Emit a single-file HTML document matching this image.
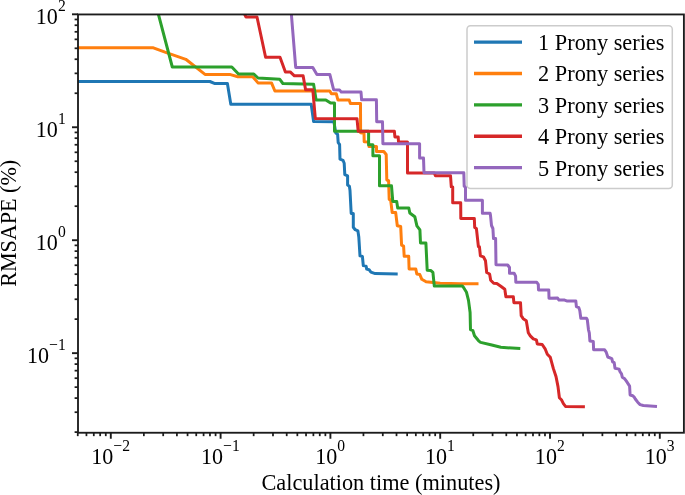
<!DOCTYPE html>
<html><head><meta charset="utf-8"><style>html,body{margin:0;padding:0;background:#fff;width:685px;height:495px;overflow:hidden}</style></head>
<body><svg width="685" height="495" viewBox="0 0 685 495" style="display:block;will-change:transform;font-family:'Liberation Serif', serif">
<rect width="685" height="495" fill="#fff"/>
<g><defs><clipPath id="ax"><rect x="78" y="14.45" width="605.9" height="418.3"/></clipPath></defs><g clip-path="url(#ax)" fill="none" stroke-width="3.0" stroke-linejoin="round" stroke-linecap="square"><path d="M60.0,81.5 L209.9,81.5 L215.0,83.6 L227.4,83.6 L230.8,104.3 L311.2,104.3 L313.6,121.6 L333.9,121.8 L335.8,133.0 L337.6,134.2 L338.2,142.7 L339.6,144.5 L340.0,159.1 L343.0,160.3 L344.2,163.3 L344.8,174.7 L347.6,175.9 L347.6,185.0 L349.4,186.2 L350.0,190.5 L351.2,213.5 L353.3,213.5 L353.3,227.3 L355.2,229.7 L357.9,230.9 L358.8,237.0 L360.0,255.8 L362.4,256.4 L363.3,265.5 L366.1,266.1 L366.7,269.1 L369.1,269.7 L370.9,272.1 L375.2,273.6 L396.2,273.9" stroke="#1f77b4"/><path d="M60.0,47.8 L153.4,47.8 L165.0,52.2 L185.8,59.3 L205.0,74.4 L229.7,74.4 L237.8,76.7 L252.7,76.7 L258.0,82.9 L271.5,82.9 L274.9,91.0 L329.8,91.0 L331.4,93.8 L336.3,93.8 L337.9,99.9 L349.2,99.9 L350.4,103.4 L360.5,103.4 L360.6,132.8 L364.0,133.3 L364.2,141.7 L368.5,142.0 L369.0,146.6 L376.5,146.6 L376.5,151.5 L383.8,151.5 L386.2,154.5 L386.8,180.0 L388.6,180.6 L389.2,199.5 L390.6,199.5 L392.2,212.6 L395.7,212.6 L397.3,225.8 L400.7,226.5 L401.6,245.2 L403.6,246.2 L404.2,256.3 L408.7,256.3 L409.1,269.0 L415.8,269.0 L416.8,274.0 L419.8,274.5 L421.8,279.3 L426.1,281.8 L440.2,283.2 L460.4,283.8 L477.0,283.8" stroke="#ff7f0e"/><path d="M152.0,-10.0 L172.3,67.0 L231.8,67.0 L238.5,74.0 L253.8,74.0 L258.0,78.0 L279.8,79.3 L282.9,83.5 L313.6,84.3 L316.1,99.9 L325.8,99.9 L330.6,103.1 L334.5,103.1 L334.5,131.2 L368.6,131.2 L368.6,144.8 L372.9,144.8 L372.9,155.8 L379.5,155.8 L379.5,185.8 L391.5,185.8 L392.8,201.5 L396.7,201.5 L397.7,208.0 L408.8,208.0 L409.8,213.0 L414.8,216.7 L416.9,225.8 L419.9,229.8 L420.5,243.0 L425.9,243.1 L427.2,270.2 L430.9,270.6 L432.9,272.4 L434.3,286.0 L462.3,286.0 L463.4,287.3 L466.5,292.3 L468.5,300.4 L470.1,312.5 L470.5,329.7 L472.9,330.7 L474.5,335.8 L478.6,340.8 L480.6,342.4 L490.7,344.8 L500.8,347.3 L518.8,348.5" stroke="#2ca02c"/><path d="M242.5,10.0 L246.0,17.0 L257.0,17.0 L265.6,57.3 L280.0,57.3 L285.4,71.9 L290.2,71.9 L294.4,75.8 L303.1,75.8 L305.6,89.7 L312.8,89.7 L315.3,118.5 L357.0,118.7 L358.2,131.3 L394.4,131.3 L394.9,136.9 L398.2,136.9 L398.5,142.0 L407.5,142.0 L407.5,173.0 L434.3,173.0 L435.4,175.7 L450.5,175.7 L451.3,186.8 L452.7,187.0 L452.7,202.7 L460.7,202.7 L460.8,218.4 L474.3,218.4 L474.7,227.5 L476.4,228.5 L478.4,246.7 L479.4,246.7 L480.4,255.8 L483.4,256.8 L485.5,260.8 L486.7,272.5 L489.6,274.0 L490.7,280.2 L493.7,283.2 L496.8,283.5 L500.8,286.3 L504.8,289.3 L505.9,296.7 L513.3,296.7 L513.9,302.7 L520.5,302.7 L521.2,315.7 L523.2,318.7 L526.3,320.7 L528.3,332.8 L530.3,335.9 L533.3,338.9 L536.4,339.9 L537.3,344.0 L542.2,344.5 L545.3,349.2 L547.3,354.2 L550.3,357.3 L553.3,368.4 L556.0,376.5 L558.0,386.6 L559.4,397.7 L561.4,399.7 L563.4,403.7 L565.5,406.4 L583.4,406.8" stroke="#d62728"/><path d="M289.4,-10.0 L295.7,67.4 L312.8,67.4 L316.9,74.4 L329.8,74.4 L333.6,89.7 L339.5,89.9 L341.3,92.1 L361.0,92.1 L361.6,99.8 L376.4,99.8 L376.7,121.7 L382.5,121.7 L382.9,143.7 L419.6,143.7 L419.6,158.1 L423.5,158.1 L424.0,172.7 L463.8,172.7 L464.2,186.2 L465.5,187.0 L465.5,200.2 L482.4,200.2 L482.4,213.3 L490.1,213.3 L490.5,215.4 L491.5,225.5 L492.9,228.5 L493.5,238.6 L495.6,238.6 L496.0,264.8 L507.7,265.0 L509.5,267.5 L509.5,273.2 L514.1,273.2 L515.6,276.2 L515.8,282.3 L536.8,282.3 L538.3,284.3 L538.5,290.0 L548.8,290.0 L549.0,298.3 L557.6,298.1 L559.0,300.1 L564.6,300.1 L566.7,300.9 L575.8,300.9 L576.4,306.6 L578.8,307.6 L579.8,310.6 L580.8,318.3 L586.5,318.3 L587.3,319.7 L588.5,329.8 L589.3,332.8 L589.9,340.9 L593.3,341.5 L593.6,349.7 L604.5,349.7 L606.2,352.1 L607.8,357.0 L611.8,358.6 L612.6,361.8 L614.2,362.6 L615.0,368.3 L619.1,369.1 L619.9,371.5 L621.5,373.9 L622.3,377.2 L624.7,378.8 L626.4,381.2 L628.0,383.6 L629.6,386.1 L630.1,395.0 L632.8,395.8 L634.4,397.4 L635.3,399.0 L637.7,402.2 L640.1,404.6 L643.3,405.5 L655.5,406.3" stroke="#9467bd"/></g></g>
<rect x="78.0" y="14.45" width="605.9" height="418.3" fill="none" stroke="#1c1c1c" stroke-width="1.85"/>
<line x1="77.75" y1="432.75" x2="77.75" y2="436.15" stroke="#1c1c1c" stroke-width="1.75"/><line x1="86.44" y1="432.75" x2="86.44" y2="436.15" stroke="#1c1c1c" stroke-width="1.75"/><line x1="93.79" y1="432.75" x2="93.79" y2="436.15" stroke="#1c1c1c" stroke-width="1.75"/><line x1="100.16" y1="432.75" x2="100.16" y2="436.15" stroke="#1c1c1c" stroke-width="1.75"/><line x1="105.78" y1="432.75" x2="105.78" y2="436.15" stroke="#1c1c1c" stroke-width="1.75"/><line x1="110.80" y1="432.75" x2="110.80" y2="438.75" stroke="#1c1c1c" stroke-width="1.9"/><line x1="143.85" y1="432.75" x2="143.85" y2="436.15" stroke="#1c1c1c" stroke-width="1.75"/><line x1="163.19" y1="432.75" x2="163.19" y2="436.15" stroke="#1c1c1c" stroke-width="1.75"/><line x1="176.91" y1="432.75" x2="176.91" y2="436.15" stroke="#1c1c1c" stroke-width="1.75"/><line x1="187.55" y1="432.75" x2="187.55" y2="436.15" stroke="#1c1c1c" stroke-width="1.75"/><line x1="196.24" y1="432.75" x2="196.24" y2="436.15" stroke="#1c1c1c" stroke-width="1.75"/><line x1="203.59" y1="432.75" x2="203.59" y2="436.15" stroke="#1c1c1c" stroke-width="1.75"/><line x1="209.96" y1="432.75" x2="209.96" y2="436.15" stroke="#1c1c1c" stroke-width="1.75"/><line x1="215.58" y1="432.75" x2="215.58" y2="436.15" stroke="#1c1c1c" stroke-width="1.75"/><line x1="220.60" y1="432.75" x2="220.60" y2="438.75" stroke="#1c1c1c" stroke-width="1.9"/><line x1="253.65" y1="432.75" x2="253.65" y2="436.15" stroke="#1c1c1c" stroke-width="1.75"/><line x1="272.99" y1="432.75" x2="272.99" y2="436.15" stroke="#1c1c1c" stroke-width="1.75"/><line x1="286.71" y1="432.75" x2="286.71" y2="436.15" stroke="#1c1c1c" stroke-width="1.75"/><line x1="297.35" y1="432.75" x2="297.35" y2="436.15" stroke="#1c1c1c" stroke-width="1.75"/><line x1="306.04" y1="432.75" x2="306.04" y2="436.15" stroke="#1c1c1c" stroke-width="1.75"/><line x1="313.39" y1="432.75" x2="313.39" y2="436.15" stroke="#1c1c1c" stroke-width="1.75"/><line x1="319.76" y1="432.75" x2="319.76" y2="436.15" stroke="#1c1c1c" stroke-width="1.75"/><line x1="325.38" y1="432.75" x2="325.38" y2="436.15" stroke="#1c1c1c" stroke-width="1.75"/><line x1="330.40" y1="432.75" x2="330.40" y2="438.75" stroke="#1c1c1c" stroke-width="1.9"/><line x1="363.45" y1="432.75" x2="363.45" y2="436.15" stroke="#1c1c1c" stroke-width="1.75"/><line x1="382.79" y1="432.75" x2="382.79" y2="436.15" stroke="#1c1c1c" stroke-width="1.75"/><line x1="396.51" y1="432.75" x2="396.51" y2="436.15" stroke="#1c1c1c" stroke-width="1.75"/><line x1="407.15" y1="432.75" x2="407.15" y2="436.15" stroke="#1c1c1c" stroke-width="1.75"/><line x1="415.84" y1="432.75" x2="415.84" y2="436.15" stroke="#1c1c1c" stroke-width="1.75"/><line x1="423.19" y1="432.75" x2="423.19" y2="436.15" stroke="#1c1c1c" stroke-width="1.75"/><line x1="429.56" y1="432.75" x2="429.56" y2="436.15" stroke="#1c1c1c" stroke-width="1.75"/><line x1="435.18" y1="432.75" x2="435.18" y2="436.15" stroke="#1c1c1c" stroke-width="1.75"/><line x1="440.20" y1="432.75" x2="440.20" y2="438.75" stroke="#1c1c1c" stroke-width="1.9"/><line x1="473.25" y1="432.75" x2="473.25" y2="436.15" stroke="#1c1c1c" stroke-width="1.75"/><line x1="492.59" y1="432.75" x2="492.59" y2="436.15" stroke="#1c1c1c" stroke-width="1.75"/><line x1="506.31" y1="432.75" x2="506.31" y2="436.15" stroke="#1c1c1c" stroke-width="1.75"/><line x1="516.95" y1="432.75" x2="516.95" y2="436.15" stroke="#1c1c1c" stroke-width="1.75"/><line x1="525.64" y1="432.75" x2="525.64" y2="436.15" stroke="#1c1c1c" stroke-width="1.75"/><line x1="532.99" y1="432.75" x2="532.99" y2="436.15" stroke="#1c1c1c" stroke-width="1.75"/><line x1="539.36" y1="432.75" x2="539.36" y2="436.15" stroke="#1c1c1c" stroke-width="1.75"/><line x1="544.98" y1="432.75" x2="544.98" y2="436.15" stroke="#1c1c1c" stroke-width="1.75"/><line x1="550.00" y1="432.75" x2="550.00" y2="438.75" stroke="#1c1c1c" stroke-width="1.9"/><line x1="583.05" y1="432.75" x2="583.05" y2="436.15" stroke="#1c1c1c" stroke-width="1.75"/><line x1="602.39" y1="432.75" x2="602.39" y2="436.15" stroke="#1c1c1c" stroke-width="1.75"/><line x1="616.11" y1="432.75" x2="616.11" y2="436.15" stroke="#1c1c1c" stroke-width="1.75"/><line x1="626.75" y1="432.75" x2="626.75" y2="436.15" stroke="#1c1c1c" stroke-width="1.75"/><line x1="635.44" y1="432.75" x2="635.44" y2="436.15" stroke="#1c1c1c" stroke-width="1.75"/><line x1="642.79" y1="432.75" x2="642.79" y2="436.15" stroke="#1c1c1c" stroke-width="1.75"/><line x1="649.16" y1="432.75" x2="649.16" y2="436.15" stroke="#1c1c1c" stroke-width="1.75"/><line x1="654.78" y1="432.75" x2="654.78" y2="436.15" stroke="#1c1c1c" stroke-width="1.75"/><line x1="659.80" y1="432.75" x2="659.80" y2="438.75" stroke="#1c1c1c" stroke-width="1.9"/><line x1="78.0" y1="432.10" x2="74.60" y2="432.10" stroke="#1c1c1c" stroke-width="1.75"/><line x1="78.0" y1="412.21" x2="74.60" y2="412.21" stroke="#1c1c1c" stroke-width="1.75"/><line x1="78.0" y1="398.10" x2="74.60" y2="398.10" stroke="#1c1c1c" stroke-width="1.75"/><line x1="78.0" y1="387.15" x2="74.60" y2="387.15" stroke="#1c1c1c" stroke-width="1.75"/><line x1="78.0" y1="378.21" x2="74.60" y2="378.21" stroke="#1c1c1c" stroke-width="1.75"/><line x1="78.0" y1="370.65" x2="74.60" y2="370.65" stroke="#1c1c1c" stroke-width="1.75"/><line x1="78.0" y1="364.10" x2="74.60" y2="364.10" stroke="#1c1c1c" stroke-width="1.75"/><line x1="78.0" y1="358.32" x2="74.60" y2="358.32" stroke="#1c1c1c" stroke-width="1.75"/><line x1="78.0" y1="353.15" x2="72.00" y2="353.15" stroke="#1c1c1c" stroke-width="1.9"/><line x1="78.0" y1="319.15" x2="74.60" y2="319.15" stroke="#1c1c1c" stroke-width="1.75"/><line x1="78.0" y1="299.26" x2="74.60" y2="299.26" stroke="#1c1c1c" stroke-width="1.75"/><line x1="78.0" y1="285.15" x2="74.60" y2="285.15" stroke="#1c1c1c" stroke-width="1.75"/><line x1="78.0" y1="274.20" x2="74.60" y2="274.20" stroke="#1c1c1c" stroke-width="1.75"/><line x1="78.0" y1="265.26" x2="74.60" y2="265.26" stroke="#1c1c1c" stroke-width="1.75"/><line x1="78.0" y1="257.70" x2="74.60" y2="257.70" stroke="#1c1c1c" stroke-width="1.75"/><line x1="78.0" y1="251.15" x2="74.60" y2="251.15" stroke="#1c1c1c" stroke-width="1.75"/><line x1="78.0" y1="245.37" x2="74.60" y2="245.37" stroke="#1c1c1c" stroke-width="1.75"/><line x1="78.0" y1="240.20" x2="72.00" y2="240.20" stroke="#1c1c1c" stroke-width="1.9"/><line x1="78.0" y1="206.20" x2="74.60" y2="206.20" stroke="#1c1c1c" stroke-width="1.75"/><line x1="78.0" y1="186.31" x2="74.60" y2="186.31" stroke="#1c1c1c" stroke-width="1.75"/><line x1="78.0" y1="172.20" x2="74.60" y2="172.20" stroke="#1c1c1c" stroke-width="1.75"/><line x1="78.0" y1="161.25" x2="74.60" y2="161.25" stroke="#1c1c1c" stroke-width="1.75"/><line x1="78.0" y1="152.31" x2="74.60" y2="152.31" stroke="#1c1c1c" stroke-width="1.75"/><line x1="78.0" y1="144.75" x2="74.60" y2="144.75" stroke="#1c1c1c" stroke-width="1.75"/><line x1="78.0" y1="138.20" x2="74.60" y2="138.20" stroke="#1c1c1c" stroke-width="1.75"/><line x1="78.0" y1="132.42" x2="74.60" y2="132.42" stroke="#1c1c1c" stroke-width="1.75"/><line x1="78.0" y1="127.25" x2="72.00" y2="127.25" stroke="#1c1c1c" stroke-width="1.9"/><line x1="78.0" y1="93.25" x2="74.60" y2="93.25" stroke="#1c1c1c" stroke-width="1.75"/><line x1="78.0" y1="73.36" x2="74.60" y2="73.36" stroke="#1c1c1c" stroke-width="1.75"/><line x1="78.0" y1="59.25" x2="74.60" y2="59.25" stroke="#1c1c1c" stroke-width="1.75"/><line x1="78.0" y1="48.30" x2="74.60" y2="48.30" stroke="#1c1c1c" stroke-width="1.75"/><line x1="78.0" y1="39.36" x2="74.60" y2="39.36" stroke="#1c1c1c" stroke-width="1.75"/><line x1="78.0" y1="31.80" x2="74.60" y2="31.80" stroke="#1c1c1c" stroke-width="1.75"/><line x1="78.0" y1="25.25" x2="74.60" y2="25.25" stroke="#1c1c1c" stroke-width="1.75"/><line x1="78.0" y1="19.47" x2="74.60" y2="19.47" stroke="#1c1c1c" stroke-width="1.75"/><line x1="78.0" y1="14.30" x2="72.00" y2="14.30" stroke="#1c1c1c" stroke-width="1.9"/>
<g fill="#000"><g transform="translate(110.60,464.00) scale(0.92,1)"><text x="0" y="0" text-anchor="middle" font-size="24">10<tspan dy="-13.2" font-size="17">−2</tspan></text></g><g transform="translate(220.40,464.00) scale(0.92,1)"><text x="0" y="0" text-anchor="middle" font-size="24">10<tspan dy="-13.2" font-size="17">−1</tspan></text></g><g transform="translate(330.20,464.00) scale(0.92,1)"><text x="0" y="0" text-anchor="middle" font-size="24">10<tspan dy="-13.2" font-size="17">0</tspan></text></g><g transform="translate(440.00,464.00) scale(0.92,1)"><text x="0" y="0" text-anchor="middle" font-size="24">10<tspan dy="-13.2" font-size="17">1</tspan></text></g><g transform="translate(549.80,464.00) scale(0.92,1)"><text x="0" y="0" text-anchor="middle" font-size="24">10<tspan dy="-13.2" font-size="17">2</tspan></text></g><g transform="translate(659.60,464.00) scale(0.92,1)"><text x="0" y="0" text-anchor="middle" font-size="24">10<tspan dy="-13.2" font-size="17">3</tspan></text></g><g transform="translate(65.70,363.15) scale(0.92,1)"><text x="0" y="0" text-anchor="end" font-size="24">10<tspan dy="-13.2" font-size="17">−1</tspan></text></g><g transform="translate(65.70,250.20) scale(0.92,1)"><text x="0" y="0" text-anchor="end" font-size="24">10<tspan dy="-13.2" font-size="17">0</tspan></text></g><g transform="translate(65.70,137.25) scale(0.92,1)"><text x="0" y="0" text-anchor="end" font-size="24">10<tspan dy="-13.2" font-size="17">1</tspan></text></g><g transform="translate(65.70,24.30) scale(0.92,1)"><text x="0" y="0" text-anchor="end" font-size="24">10<tspan dy="-13.2" font-size="17">2</tspan></text></g><text x="381" y="490.2" text-anchor="middle" font-size="22.3">Calculation time (minutes)</text><text transform="translate(15.7,223.3) rotate(-90)" x="0" y="0" text-anchor="middle" font-size="22.1">RMSAPE (%)</text></g>
<g><rect x="467" y="25.7" width="205.3" height="162.8" rx="3.5" ry="3.5" fill="#fff" fill-opacity="0.8" stroke="#ccc" stroke-width="1.5"/><line x1="474" y1="42.10" x2="522" y2="42.10" stroke="#1f77b4" stroke-width="3.3"/><text x="538.1" y="49.60" font-size="22.3">1 Prony series</text><line x1="474" y1="73.48" x2="522" y2="73.48" stroke="#ff7f0e" stroke-width="3.3"/><text x="538.1" y="81.10" font-size="22.3">2 Prony series</text><line x1="474" y1="104.86" x2="522" y2="104.86" stroke="#2ca02c" stroke-width="3.3"/><text x="538.1" y="112.60" font-size="22.3">3 Prony series</text><line x1="474" y1="136.24" x2="522" y2="136.24" stroke="#d62728" stroke-width="3.3"/><text x="538.1" y="144.10" font-size="22.3">4 Prony series</text><line x1="474" y1="167.62" x2="522" y2="167.62" stroke="#9467bd" stroke-width="3.3"/><text x="538.1" y="175.60" font-size="22.3">5 Prony series</text></g>
</svg></body></html>
